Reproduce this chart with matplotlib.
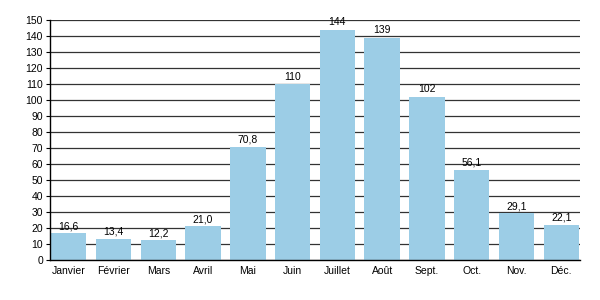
import matplotlib
matplotlib.use("Agg")
import matplotlib.pyplot as plt

plt.rcParams['font.family'] = ['Liberation Sans', 'DejaVu Sans']

months = ['Janvier', 'Février', 'Mars', 'Avril', 'Mai', 'Juin',
          'Juillet', 'Août', 'Sept.', 'Oct.', 'Nov.', 'Déc.']
values = [16.6, 13.4, 12.2, 21.0, 70.8, 110, 144, 139, 102, 56.1, 29.1, 22.1]
labels = ['16,6', '13,4', '12,2', '21,0', '70,8', '110', '144', '139', '102', '56,1', '29,1', '22,1']

fig = plt.figure(figsize=(6, 3), dpi=100)
ax = fig.add_axes([50/600, 40/300, 530/600, 240/300])

x = range(len(months))
bars = ax.bar(x, values, width=0.79, color='#9ccde6', zorder=2)
for b, lab in zip(bars, labels):
    ax.text(b.get_x() + b.get_width()/2, b.get_height() + 1.5, lab,
            ha='center', va='bottom', fontsize=7.5, zorder=3)

ax.set_xlim(-0.42, 11.42)
ax.set_ylim(0, 150)
ax.set_yticks(range(0, 151, 10))
ax.set_xticks(list(x))
ax.set_xticklabels(months)
ax.yaxis.grid(True, color='#333333', linewidth=0.9, zorder=0)
ax.set_axisbelow(True)
for s in ['top', 'right']:
    ax.spines[s].set_visible(False)
for s in ['left', 'bottom']:
    ax.spines[s].set_linewidth(1.0)
ax.tick_params(axis='y', length=3, labelsize=7.5, pad=2)
ax.tick_params(axis='x', length=0, labelsize=7.5, pad=4)

fig.savefig("out.png", dpi=100)
